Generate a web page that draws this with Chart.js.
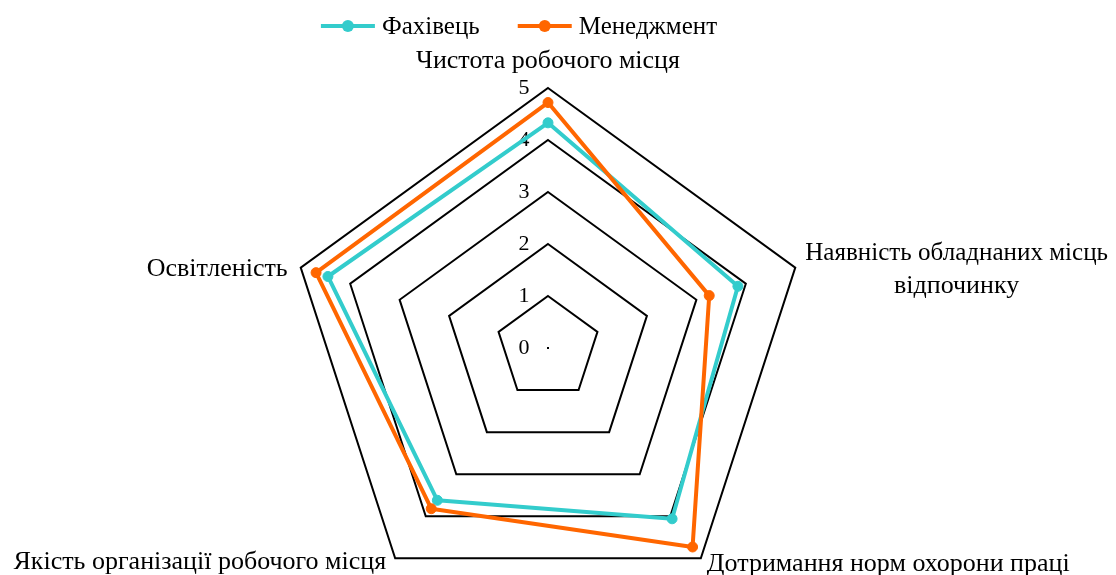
<!DOCTYPE html>
<html lang="uk">
<head>
<meta charset="utf-8">
<title>Оцінка умов праці</title>
<script src="https://cdn.jsdelivr.net/npm/chart.js@4.4.1/dist/chart.umd.min.js"></script>
<style>
  html, body { margin: 0; padding: 0; background: #ffffff; }
  canvas { display: block; }
</style>
</head>
<body>
<canvas id="chart" width="1116" height="575"></canvas>
<script>
// Categories (axes of the radar, clockwise from the top)
const categories = [
  ['Чистота робочого місця'],
  ['Наявність обладнаних місць', 'відпочинку'],
  ['Дотримання норм охорони праці'],
  ['Якість організації робочого місця'],
  ['Освітленість']
];

// Series
const seriesNames = ['Фахівець', 'Менеджмент'];
const fakhivetsValues   = [4.33, 3.84, 4.06, 3.62, 4.45];
const menedzhmentValues = [4.72, 3.26, 4.73, 3.82, 4.69];

// Scale tick labels
const tickLabels = ['0', '1', '2', '3', '4', '5'];

const seriesColors = ['#33CCCC', '#FF6600'];
const SERIF = '"Liberation Serif", "Times New Roman", serif';

// Geometry of the radial scale
const RADAR_CENTER = { x: 548, y: 348 };
const RADAR_RADIUS = 260;

// Legend placement
const LEGEND = { centerX: 519, y: 26, lineLen: 54, gapText: 7, gapItem: 38, font: 25 };

// Per-axis label placement relative to the outer vertex
const LABEL_FONT = 26;
const LABEL_LINE = 33;
const labelPlacement = [
  { align: 'center', dx: 0,   dy: -20 },
  { align: 'block',  dx: 10,  dy: -8  },
  { align: 'left',   dx: 6,   dy: 13  },
  { align: 'right',  dx: -9,  dy: 11  },
  { align: 'right',  dx: -13, dy: 8   }
];

const radarDecor = {
  id: 'radarDecor',
  beforeDatasetsDraw(chart) {
    const s = chart.scales.r;
    const ctx = chart.ctx;
    ctx.save();
    ctx.fillStyle = '#000000';

    // zero level (degenerate polygon)
    ctx.fillRect(s.xCenter - 1, s.yCenter - 1, 2, 2);

    // tick labels, left of the vertical axis
    ctx.font = '22px ' + SERIF;
    ctx.textAlign = 'center';
    ctx.textBaseline = 'middle';
    tickLabels.forEach(t => {
      const d = s.getDistanceFromCenterForValue(Number(t));
      ctx.fillText(t, s.xCenter - 24, s.yCenter - d);
    });

    // axis labels
    ctx.font = LABEL_FONT + 'px ' + SERIF;
    ctx.textBaseline = 'alphabetic';
    const rightEdge = chart.width - 8;
    categories.forEach((lines, i) => {
      const p = s.getPointPosition(i, s.drawingArea);
      const pl = labelPlacement[i];
      if (pl.align === 'block') {
        const left = p.x + pl.dx;
        const room = rightEdge - left;
        const w = Math.min(room, Math.max(...lines.map(l => ctx.measureText(l).width)));
        ctx.textAlign = 'center';
        lines.forEach((l, k) => ctx.fillText(l, left + w / 2, p.y + pl.dy + k * LABEL_LINE, room));
      } else {
        ctx.textAlign = pl.align;
        lines.forEach((l, k) => ctx.fillText(l, p.x + pl.dx, p.y + pl.dy + k * LABEL_LINE));
      }
    });
    ctx.restore();
  },
  afterDraw(chart) {
    // legend: line with marker, then series name
    const ctx = chart.ctx;
    const ds = chart.data.datasets;
    ctx.save();
    ctx.font = LEGEND.font + 'px ' + SERIF;
    ctx.textBaseline = 'middle';
    ctx.textAlign = 'left';
    const widths = ds.map(d => LEGEND.lineLen + LEGEND.gapText + ctx.measureText(d.label).width);
    const total = widths.reduce((a, b) => a + b, 0) + LEGEND.gapItem * (ds.length - 1);
    let x = LEGEND.centerX - total / 2;
    ds.forEach((d, i) => {
      ctx.strokeStyle = d.borderColor;
      ctx.lineWidth = 4;
      ctx.beginPath();
      ctx.moveTo(x, LEGEND.y);
      ctx.lineTo(x + LEGEND.lineLen, LEGEND.y);
      ctx.stroke();
      ctx.fillStyle = d.borderColor;
      ctx.beginPath();
      ctx.arc(x + LEGEND.lineLen / 2, LEGEND.y, 6, 0, Math.PI * 2);
      ctx.fill();
      ctx.fillStyle = '#000000';
      ctx.fillText(d.label, x + LEGEND.lineLen + LEGEND.gapText, LEGEND.y + 1);
      x += widths[i] + LEGEND.gapItem;
    });
    ctx.restore();
  }
};

const seriesValues = [fakhivetsValues, menedzhmentValues];

new Chart(document.getElementById('chart'), {
  type: 'radar',
  data: {
    labels: categories,
    datasets: seriesNames.map((name, i) => ({
      label: name,
      data: seriesValues[i],
      borderColor: seriesColors[i],
      backgroundColor: seriesColors[i],
      pointBackgroundColor: seriesColors[i],
      pointBorderColor: seriesColors[i],
      borderWidth: 4,
      pointRadius: 5,
      pointBorderWidth: 1,
      fill: false,
      clip: false,
      order: seriesNames.length - i,
      borderJoinStyle: 'round'
    }))
  },
  options: {
    responsive: false,
    animation: false,
    devicePixelRatio: 1,
    layout: { padding: 0 },
    plugins: {
      legend: { display: false },
      tooltip: { enabled: false }
    },
    scales: {
      r: {
        min: Number(tickLabels[0]),
        max: Number(tickLabels[tickLabels.length - 1]),
        ticks: { display: false, stepSize: 1 },
        pointLabels: { display: false },
        angleLines: { display: false },
        grid: { color: '#000000', lineWidth: 2, circular: false },
        afterFit(scale) {
          scale.xCenter = RADAR_CENTER.x;
          scale.yCenter = RADAR_CENTER.y;
          scale.drawingArea = RADAR_RADIUS;
        }
      }
    }
  },
  plugins: [radarDecor]
});
</script>
</body>
</html>
